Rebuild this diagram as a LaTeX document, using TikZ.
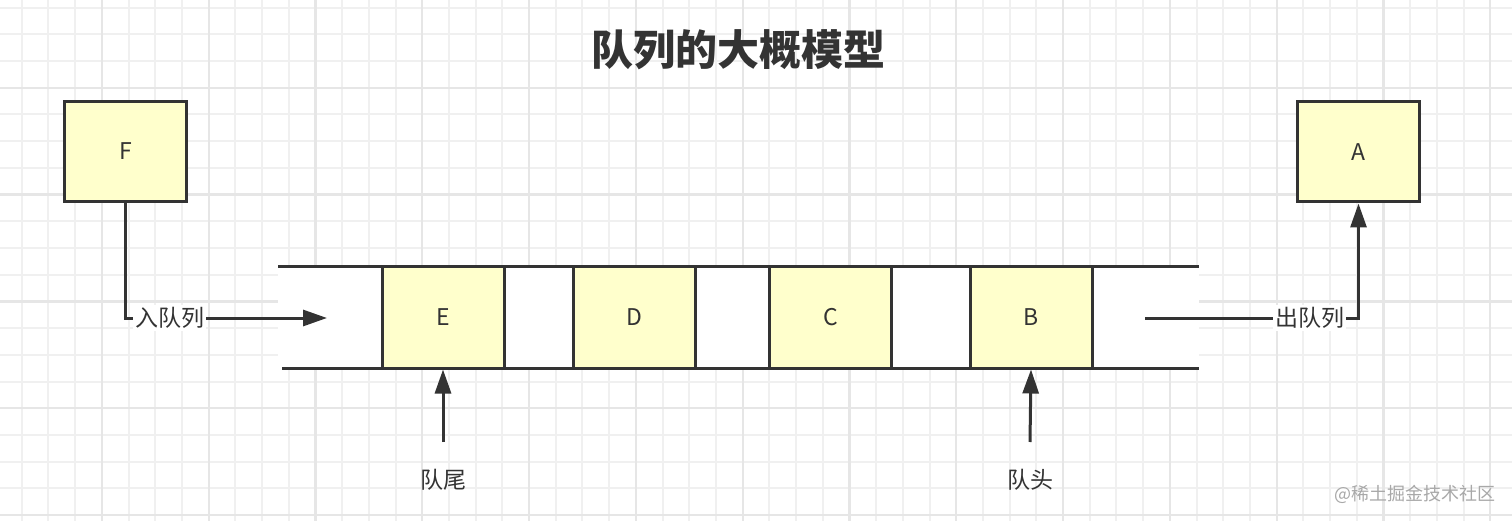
\documentclass[tikz,border=0pt]{standalone}
\usepackage{fontspec}
\newfontfamily\cjk{Noto Sans CJK SC}
\usetikzlibrary{arrows.meta}
\definecolor{ink}{HTML}{333333}
\definecolor{boxfill}{HTML}{FFFFCC}
\definecolor{gridminor}{HTML}{F0F0F0}
\definecolor{gridmajor}{HTML}{E6E6E6}
\definecolor{wmark}{HTML}{A8A8A8}
\begin{document}
\begin{tikzpicture}[x=1pt,y=-1pt,
  cell/.style={draw=ink, line width=3pt, fill=boxfill, minimum width=122pt,
    minimum height=101pt, inner sep=0pt, text=ink, font=\cjk\fontsize{23}{28}\selectfont},
  outbox/.style={cell, minimum height=100pt},
  conn/.style={draw=ink, line width=3pt, -{Triangle[length=24pt,width=16pt]}},
  lbl/.style={fill=white, inner sep=2pt, text=ink, font=\cjk\fontsize{23}{28}\selectfont},
  plainlbl/.style={inner sep=0pt, text=ink, font=\cjk\fontsize{23}{28}\selectfont},
  chanline/.style={draw=ink, line width=3pt},
  minorgrid/.style={draw=gridminor, line width=2pt},
  majorgrid/.style={draw=gridmajor, line width=2.2pt}]
\useasboundingbox (0,0) rectangle (1512,521);
\fill[white] (0,0) rectangle (1512,521);
% grid
\foreach \i in {0,...,57} { \draw[minorgrid] ({-5+26.7*\i},0) -- ({-5+26.7*\i},521); }
\foreach \j in {1,...,20} { \draw[minorgrid] (0,{-19+26.7*\j}) -- (1512,{-19+26.7*\j}); }
\foreach \i in {1,...,14} { \draw[majorgrid] ({-5+106.8*\i},0) -- ({-5+106.8*\i},521); }
\foreach \j in {1,...,5} { \draw[majorgrid] (0,{-19+106.8*\j}) -- (1512,{-19+106.8*\j}); }
% title
\node[text=ink, font=\cjk\bfseries\fontsize{42}{48}\selectfont] (title) at (738,50) {队列的大概模型};
% channel
\coordinate (chTL) at (278,267);
\coordinate (chTR) at (1199,267);
\coordinate (chBL) at (282,368);
\coordinate (chBR) at (1199,368);
\fill[white] (chTL) rectangle (chBR);
\draw[chanline] (chTL) -- (chTR);
\draw[chanline] (chBL) -- (chBR);
% boxes
\node[outbox] (F) at (125.5,151.5) {F};
\node[outbox] (A) at (1358.5,152) {A};
\node[cell] (E) at (443,317.5) {E};
\node[cell] (D) at (634.5,317.5) {D};
\node[cell] (C) at (830.5,317.5) {C};
\node[cell] (B) at (1031,317.5) {B};
% enqueue
\coordinate (inTip) at (327,318);
\draw[conn] (F.south) |- node[lbl, pos=0.61] (inLbl) {入队列} (inTip);
% dequeue
\coordinate (outStart) at (1145,318);
\draw[conn] (outStart) -| node[lbl, pos=0.386] (outLbl) {出队列} (A.south);
% tail and head pointers
\coordinate (tailStart) at (443,442);
\coordinate (headStart) at (1030,442);
\draw[conn] (tailStart) -- (E.south);
\draw[conn] (headStart) -- (B.south);
\node[plainlbl] (tailLbl) at (443,480) {队尾};
\node[plainlbl] (headLbl) at (1030,480) {队头};
% watermark
\node[text=wmark, inner sep=0pt, font=\cjk\fontsize{18}{22}\selectfont] (wm) at (1415,494) {@稀土掘金技术社区};
\end{tikzpicture}
\end{document}
